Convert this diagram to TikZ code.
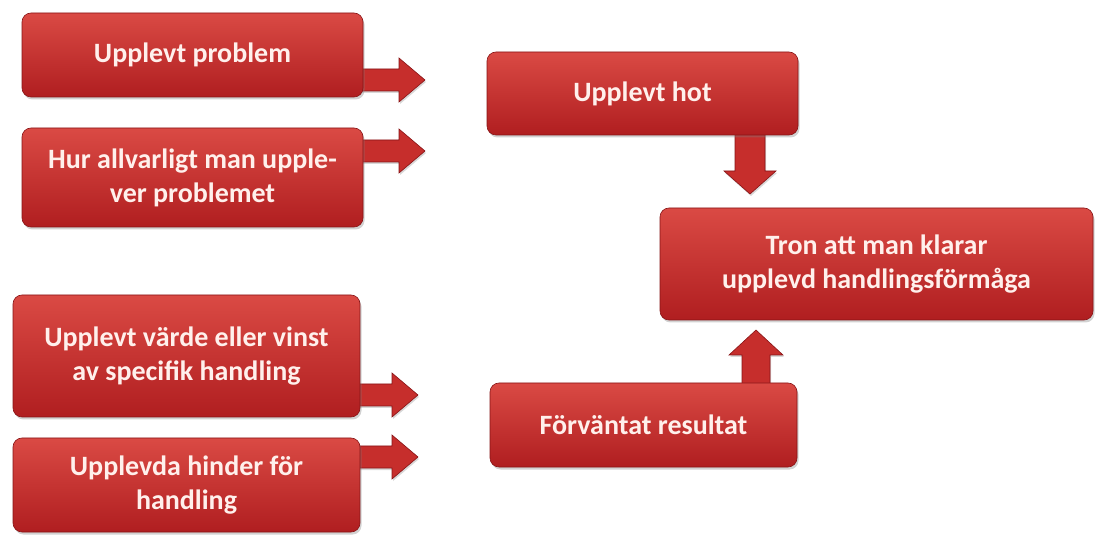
\documentclass[tikz,border=0pt]{standalone}
\usepackage{fontspec}
\setmainfont{Carlito}
\usetikzlibrary{calc,shadows,backgrounds}
\definecolor{boxtop}{RGB}{218,74,68}
\definecolor{boxbot}{RGB}{176,30,32}
\definecolor{boxedge}{RGB}{135,20,22}
\definecolor{arrowfill}{RGB}{198,46,44}
\definecolor{textcol}{RGB}{255,240,236}
\tikzset{
  box/.style={rounded corners=9pt, top color=boxtop, bottom color=boxbot,
    draw=boxedge, line width=0.6pt, text=textcol, align=center, inner sep=0pt,
    font=\fontsize{28}{34}\selectfont\bfseries,
    drop shadow={shadow xshift=1.5pt, shadow yshift=-2.5pt, opacity=0.35}},
  blockarrow/.style={fill=arrowfill, draw=boxedge, line width=0.6pt,
    drop shadow={shadow xshift=1pt, shadow yshift=-2pt, opacity=0.3}}
}
% horizontal block arrow: #1 start point on box edge, #2 tip
\newcommand\harr[2]{\path[blockarrow] let \p1=(#1), \p2=(#2) in
  (\x1-4pt,\y2+11pt) -- (\x2-26pt,\y2+11pt) -- (\x2-26pt,\y2+22pt) -- (\x2,\y2)
  -- (\x2-26pt,\y2-22pt) -- (\x2-26pt,\y2-11pt) -- (\x1-4pt,\y2-11pt) -- cycle;}
% downward block arrow
\newcommand\darr[2]{\path[blockarrow] let \p1=(#1), \p2=(#2) in
  (\x2-15pt,\y1+4pt) -- (\x2-15pt,\y2+23pt) -- (\x2-26pt,\y2+23pt) -- (\x2,\y2)
  -- (\x2+26pt,\y2+23pt) -- (\x2+15pt,\y2+23pt) -- (\x2+15pt,\y1+4pt) -- cycle;}
% upward block arrow
\newcommand\uarr[2]{\path[blockarrow] let \p1=(#1), \p2=(#2) in
  (\x2-14pt,\y1-4pt) -- (\x2-14pt,\y2-25pt) -- (\x2-27pt,\y2-25pt) -- (\x2,\y2)
  -- (\x2+27pt,\y2-25pt) -- (\x2+14pt,\y2-25pt) -- (\x2+14pt,\y1-4pt) -- cycle;}
\begin{document}
\begin{tikzpicture}[x=1pt,y=-1pt]
\useasboundingbox (0,0) rectangle (1104,537);

\node[box, minimum width=341pt, minimum height=84pt] (b1) at (192.5,55) {Upplevt problem};
\node[box, minimum width=341pt, minimum height=99pt] (b2) at (192.5,177.5) {Hur allvarligt man upple-\\ver problemet};
\node[box, minimum width=347pt, minimum height=122pt] (b3) at (186.5,356) {Upplevt värde eller vinst\\av specifik handling};
\node[box, minimum width=347pt, minimum height=94pt] (b4) at (186.5,485) {Upplevda hinder för\\handling};
\node[box, minimum width=311pt, minimum height=83pt] (b5) at (642.5,93.5) {Upplevt hot};
\node[box, minimum width=433pt, minimum height=112pt] (b6) at (876.5,264) {Tron att man klarar\\upplevd handlingsförmåga};
\node[box, minimum width=307pt, minimum height=84pt] (b7) at (643.5,425) {Förväntat resultat};

\coordinate (t1) at (425,80);
\coordinate (t2) at (425,151);
\coordinate (t3) at (418,395);
\coordinate (t4) at (418,457);
\coordinate (t5) at (750,194);
\coordinate (t6) at (756,330);

\begin{scope}[on background layer]
\fill[white] (0,0) rectangle (1104,537);
\harr{b1.east}{t1}
\harr{b2.east}{t2}
\harr{b3.east}{t3}
\harr{b4.east}{t4}
\darr{b5.south}{t5}
\uarr{b7.north}{t6}
\end{scope}
\end{tikzpicture}
\end{document}
